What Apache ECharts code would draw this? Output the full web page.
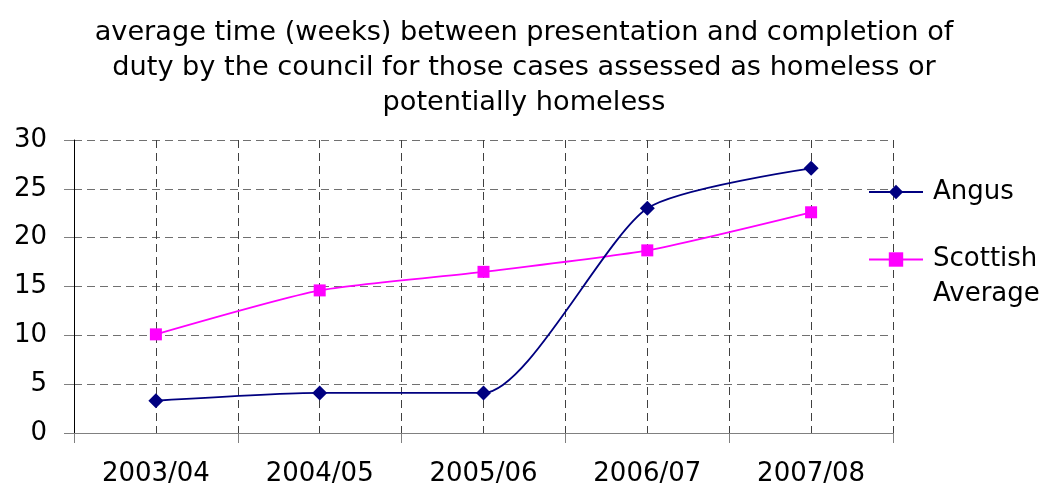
<!DOCTYPE html>
<html>
<head>
<meta charset="utf-8">
<script src="https://cdn.jsdelivr.net/npm/echarts@6/dist/echarts.min.js"></script>
<style>html,body{margin:0;padding:0;background:#fff}#c{width:1048px;height:492px}</style>
</head>
<body>
<div id="c"></div>
<script>
var titleText = "average time (weeks) between presentation and completion of\nduty by the council for those cases assessed as homeless or\npotentially homeless";
var categories = ["2003/04", "2004/05", "2005/06", "2006/07", "2007/08"];
var seriesNames = ["Angus", "Scottish Average"];
var angus = [3.3, 4.1, 4.1, 23.0, 27.1];
var scottish = [10.1, 14.6, 16.5, 18.7, 22.6];
var yTicks = {min: 0, max: 30, interval: 5};

var chart = echarts.init(document.getElementById('c'), null, {renderer: 'canvas'});
var font = 'DejaVu Sans, Liberation Sans, sans-serif';
var gridDash = [8, 5];
// wrap legend names word-per-line; add blank lines above so the first line sits beside the icon
function legendFormatter(n) {
  var parts = n.split(' ');
  return new Array(parts.length).join(' \n') + parts.join('\n');
}
var legendText = {fontFamily: font, fontSize: 26, color: '#000', lineHeight: 35, padding: [0, 0, 0, 5]};
var legendBase = {
  orient: 'vertical',
  left: 868,
  padding: 0,
  itemWidth: 54, itemHeight: 18,
  formatter: legendFormatter,
  textStyle: legendText
};
chart.setOption({
  animation: false,
  backgroundColor: '#fff',
  title: {
    text: titleText,
    left: 519, textAlign: 'center', top: 10,
    textStyle: {fontFamily: font, fontSize: 27.2, fontWeight: 'normal', color: '#000', lineHeight: 35}
  },
  legend: [
    Object.assign({}, legendBase, {top: 174.5, data: [seriesNames[0]]}),
    Object.assign({}, legendBase, {top: 207, data: [seriesNames[1]]})
  ],
  grid: {left: 74, right: 155, top: 140, bottom: 59, containLabel: false},
  xAxis: [{
    type: 'category',
    data: categories,
    boundaryGap: true,
    axisLine: {lineStyle: {color: '#808080', width: 1}},
    axisTick: {show: true, length: 10, lineStyle: {color: '#808080'}},
    axisLabel: {fontFamily: font, fontSize: 26, color: '#000', margin: 28},
    splitLine: {show: false}
  }, {
    type: 'value',
    min: 0, max: 5, interval: 0.5,
    position: 'top',
    axisLine: {show: false}, axisTick: {show: false}, axisLabel: {show: false},
    splitLine: {show: true, showMinLine: false, lineStyle: {color: '#404040', type: gridDash, width: 1}}
  }],
  yAxis: {
    type: 'value',
    min: yTicks.min, max: yTicks.max, interval: yTicks.interval,
    axisLine: {show: true, lineStyle: {color: '#000', width: 1}},
    axisTick: {show: true, length: 10, lineStyle: {color: '#808080'}},
    axisLabel: {fontFamily: font, fontSize: 26, color: '#000', margin: 27},
    splitLine: {show: true, lineStyle: {color: '#707070', type: gridDash, width: 1}}
  },
  series: [{
    name: seriesNames[0],
    type: 'line',
    data: angus,
    smooth: 0.22,
    symbol: 'diamond', symbolSize: 15,
    itemStyle: {color: '#000080'},
    lineStyle: {color: '#000080', width: 1.8},
    z: 5
  }, {
    name: seriesNames[1],
    type: 'line',
    data: scottish,
    smooth: 0.2,
    symbol: 'rect', symbolSize: 12,
    itemStyle: {color: '#ff00ff'},
    lineStyle: {color: '#ff00ff', width: 1.8},
    z: 4
  }]
});
</script>
</body>
</html>
